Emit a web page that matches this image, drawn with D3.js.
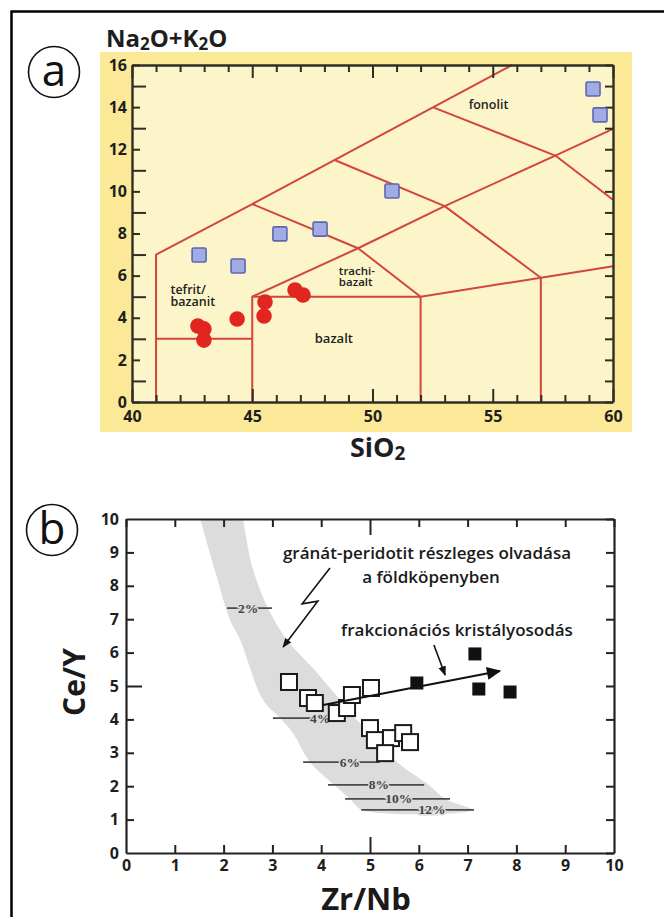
<!DOCTYPE html>
<html>
<head>
<meta charset="utf-8">
<script src="https://cdn.jsdelivr.net/npm/d3@7"></script>
<style>
  body { margin: 0; background: #fff; }
  svg { display: block; font-family: "Open Sans", "DejaVu Sans", sans-serif; }
</style>
</head>
<body>
<svg id="fig" width="664" height="917"></svg>
<script>
// ---------- panel a: TAS diagram ----------
const tasBoundaries = [
  [[41, 0], [41, 7], [45, 9.4], [55.8, 16]],
  [[41, 3], [45, 3]],
  [[45, 0], [45, 5], [52, 5], [57, 5.9], [60, 6.45]],
  [[45, 5], [49.4, 7.3], [53, 9.3], [57.6, 11.7], [60, 12.97]],
  [[45, 9.4], [49.4, 7.3], [52, 5]],
  [[48.4, 11.5], [53, 9.3], [57, 5.9]],
  [[52.5, 14], [57.6, 11.7], [60, 9.6]],
  [[52, 0], [52, 5]],
  [[57, 0], [57, 5.9]]
];
const tasFieldNames = [
  {lines: ["fonolit"], x: 54.0, y: 13.9, size: 12.5},
  {lines: ["trachi-", "bazalt"], x: 48.6, y: 6.05, size: 11.5},
  {lines: ["tefrit/", "bazanit"], x: 41.6, y: 5.15, size: 12.5},
  {lines: ["bazalt"], x: 47.6, y: 2.8, size: 13}
];
const blueSiO2 = [42.79, 44.41, 46.15, 47.82, 50.81, 59.17, 59.46];
const blueAlk  = [6.98, 6.46, 7.98, 8.21, 10.02, 14.86, 13.63];
const redSiO2 = [42.74, 42.99, 42.99, 44.37, 45.53, 45.49, 46.78, 47.11];
const redAlk  = [3.61, 3.47, 2.94, 3.94, 4.75, 4.08, 5.32, 5.08];
const aTicksX = d3.range(40, 61, 1);
const aTicksY = d3.range(0, 17, 1);

// ---------- panel b: Ce/Y vs Zr/Nb ----------
const bandLeft = [[1.52, 10], [1.82, 8.47], [2.13, 6.98], [2.34, 6.38], [2.81, 4.58], [3.16, 4.04],
  [3.42, 3.59], [3.77, 2.72], [4.3, 2.0], [4.59, 1.62], [4.84, 1.29]];
const bandRight = [[2.40, 10], [2.60, 8.5], [2.91, 7.33], [3.3, 6.38], [3.85, 5.5], [4.39, 4.58],
  [4.73, 3.98], [5.04, 3.59], [5.51, 2.78], [6.2, 2.04], [6.54, 1.62], [7.1, 1.29]];
const meltLabels = ["2%", "4%", "6%", "8%", "10%", "12%"];
const meltY      = [7.33, 4.04, 2.72, 2.04, 1.62, 1.29];
const meltX0     = [2.07, 3.01, 3.63, 4.14, 4.49, 4.82];
const meltX1     = [2.99, 4.32, 5.20, 6.11, 6.64, 7.13];
const meltLabelX = [2.5, 3.98, 4.59, 5.18, 5.59, 6.27];
const openZrNb = [3.34, 3.73, 3.87, 4.32, 4.53, 4.63, 5.02, 5.00, 5.10, 5.43, 5.68, 5.82, 5.31];
const openCeY  = [5.12, 4.64, 4.49, 4.19, 4.34, 4.73, 4.94, 3.74, 3.38, 3.44, 3.59, 3.32, 2.99];
const filledZrNb = [5.96, 7.15, 7.23, 7.87];
const filledCeY  = [5.09, 5.96, 4.91, 4.82];
const trendArrow = [[4.04, 4.43], [7.66, 5.45]];
const fracPointer = [[6.31, 6.23], [6.54, 5.33]];
const meltPointer = [[4.18, 8.53], [3.61, 7.46], [3.93, 7.54], [3.22, 6.17]];
const bTicks = d3.range(0, 11, 1);

const svg = d3.select("#fig");
const FONT = "'Open Sans', 'DejaVu Sans', sans-serif";

// defs for arrowheads
const defs = svg.append("defs");
defs.append("marker")
  .attr("id", "head").attr("viewBox", "0 0 10 10")
  .attr("refX", 9).attr("refY", 5)
  .attr("markerWidth", 6).attr("markerHeight", 6)
  .attr("markerUnits", "strokeWidth")
  .attr("orient", "auto")
  .append("path").attr("d", "M0,1 L10,5 L0,9 z").attr("fill", "#111");
defs.append("marker")
  .attr("id", "headBig").attr("viewBox", "0 0 10 10")
  .attr("refX", 9).attr("refY", 5)
  .attr("markerWidth", 7.5).attr("markerHeight", 6.5)
  .attr("markerUnits", "strokeWidth")
  .attr("orient", "auto")
  .append("path").attr("d", "M0,0.5 L10,5 L0,9.5 z").attr("fill", "#111");

// outer frame (right and bottom edges are off the page)
svg.append("path")
  .attr("d", "M11.5,917 V11.5 H664")
  .attr("fill", "none").attr("stroke", "#000").attr("stroke-width", 2.5);

function circleLabel(cx, cy, letter) {
  svg.append("circle").attr("cx", cx).attr("cy", cy).attr("r", 25.5)
    .attr("fill", "none").attr("stroke", "#111").attr("stroke-width", 1.6);
  svg.append("text").attr("x", cx).attr("y", cy + 14)
    .attr("text-anchor", "middle").attr("font-size", 44).attr("fill", "#111")
    .text(letter);
}

// ================= panel a =================
const ax = d3.scaleLinear().domain([40, 60]).range([132, 613]);
const ay = d3.scaleLinear().domain([0, 16]).range([402, 65]);
const axisCol = "#2e2e26";

svg.append("rect").attr("x", 100).attr("y", 52).attr("width", 532).attr("height", 380)
  .attr("fill", "#fbe997");
svg.append("rect").attr("x", ax(40)).attr("y", ay(16))
  .attr("width", ax(60) - ax(40)).attr("height", ay(0) - ay(16))
  .attr("fill", "#fdf5ca");

circleLabel(54, 72, "a");

const gA = svg.append("g");

// boundaries
const tasLine = d3.line().x(d => ax(d[0])).y(d => ay(d[1]));
gA.append("g").selectAll("path").data(tasBoundaries).join("path")
  .attr("d", tasLine)
  .attr("fill", "none").attr("stroke", "#d2463c").attr("stroke-width", 2)
  .attr("stroke-linejoin", "round");

// axes
function styleAxis(g, hideLabels) {
  g.attr("font-family", FONT).attr("font-size", 16);
  g.select(".domain").attr("stroke", axisCol).attr("stroke-width", 2.4);
  g.selectAll(".tick line").attr("stroke", axisCol).attr("stroke-width", 2);
  g.selectAll(".tick text").attr("fill", "#1e1e1e").attr("font-weight", "bold");
  if (hideLabels) g.selectAll(".tick text").remove();
}
const aBottom = gA.append("g").attr("transform", `translate(0,${ay(0)})`)
  .call(d3.axisBottom(ax).tickValues(aTicksX).tickSize(-7).tickSizeOuter(0).tickPadding(9)
    .tickFormat(d => d % 5 === 0 ? d : ""));
styleAxis(aBottom);
aBottom.selectAll(".tick line").filter(d => d % 5 === 0).attr("y2", -13);
const aTop = gA.append("g").attr("transform", `translate(0,${ay(16)})`)
  .call(d3.axisTop(ax).tickValues(aTicksX).tickSize(-7).tickSizeOuter(0));
styleAxis(aTop, true);
aTop.selectAll(".tick line").filter(d => d % 5 === 0).attr("y2", 13);
const aLeft = gA.append("g").attr("transform", `translate(${ax(40)},0)`)
  .call(d3.axisLeft(ay).tickValues(aTicksY).tickSize(-8).tickSizeOuter(0).tickPadding(5)
    .tickFormat(d => d % 2 === 0 ? d : ""));
styleAxis(aLeft);
aLeft.selectAll(".tick line").filter(d => d % 2 === 1).attr("x2", 14);
const aRight = gA.append("g").attr("transform", `translate(${ax(60)},0)`)
  .call(d3.axisRight(ay).tickValues(aTicksY).tickSize(-8).tickSizeOuter(0));
styleAxis(aRight, true);

// field names
tasFieldNames.forEach(f => {
  const t = gA.append("text").attr("x", ax(f.x)).attr("y", ay(f.y))
    .attr("font-size", f.size).attr("font-weight", 600).attr("fill", "#222");
  f.lines.forEach((s, i) => {
    t.append("tspan").attr("x", ax(f.x)).attr("dy", i === 0 ? 0 : f.size * 0.98).text(s);
  });
});

// samples
const sq = 14;
gA.append("g").selectAll("rect").data(blueSiO2).join("rect")
  .attr("x", (d, i) => ax(d) - sq / 2).attr("y", (d, i) => ay(blueAlk[i]) - sq / 2)
  .attr("width", sq).attr("height", sq).attr("rx", 1.5)
  .attr("fill", "#a2ace4").attr("stroke", "#5d66ad").attr("stroke-width", 1.6);
gA.append("g").selectAll("circle").data(redSiO2).join("circle")
  .attr("cx", d => ax(d)).attr("cy", (d, i) => ay(redAlk[i])).attr("r", 7.8)
  .attr("fill", "#e0261f");

// axis titles
const tA = svg.append("text").attr("x", 106).attr("y", 47)
  .attr("font-size", 24).attr("font-weight", "bold").attr("fill", "#1e1e1e");
tA.append("tspan").text("Na");
tA.append("tspan").attr("font-size", 17).attr("dy", 3).text("2");
tA.append("tspan").attr("dy", -3).text("O+K");
tA.append("tspan").attr("font-size", 17).attr("dy", 3).text("2");
tA.append("tspan").attr("dy", -3).text("O");

const tS = svg.append("text").attr("x", 350).attr("y", 457)
  .attr("font-size", 27).attr("font-weight", "bold").attr("fill", "#1e1e1e");
tS.append("tspan").text("SiO");
tS.append("tspan").attr("font-size", 19).attr("dy", 3).text("2");

// ================= panel b =================
const bx = d3.scaleLinear().domain([0, 10]).range([126, 614]);
const by = d3.scaleLinear().domain([0, 10]).range([853, 519]);

circleLabel(52, 530, "b");

const gB = svg.append("g");

// melting band
const bandPts = bandLeft.concat(bandRight.slice().reverse());
gB.append("path")
  .attr("d", d3.line().x(d => bx(d[0])).y(d => by(d[1])).curve(d3.curveCatmullRom)(bandPts) + "Z")
  .attr("fill", "#dcdcdc");

// melt-degree lines
const melt = gB.append("g");
meltLabels.forEach((lab, i) => {
  melt.append("line")
    .attr("x1", bx(meltX0[i])).attr("x2", bx(meltX1[i]))
    .attr("y1", by(meltY[i])).attr("y2", by(meltY[i]))
    .attr("stroke", "#4a4a4a").attr("stroke-width", 1.8);
  melt.append("text")
    .attr("x", bx(meltLabelX[i])).attr("y", by(meltY[i]) + 4.5)
    .attr("text-anchor", "middle")
    .attr("font-family", "'Liberation Serif', 'DejaVu Serif', serif")
    .attr("font-weight", "bold").attr("font-size", 13.5).attr("fill", "#444")
    .attr("stroke", "#dcdcdc").attr("stroke-width", 3).attr("paint-order", "stroke")
    .text(lab);
});

// axes
const bAxisCol = "#222";
function styleB(g, hideLabels) {
  g.attr("font-family", FONT).attr("font-size", 16);
  g.select(".domain").attr("stroke", bAxisCol).attr("stroke-width", 2.2);
  g.selectAll(".tick line").attr("stroke", bAxisCol).attr("stroke-width", 2);
  g.selectAll(".tick text").attr("fill", "#1e1e1e").attr("font-weight", "bold");
  if (hideLabels) g.selectAll(".tick text").remove();
}
const bBottom = gB.append("g").attr("transform", `translate(0,${by(0)})`)
  .call(d3.axisBottom(bx).tickValues(bTicks).tickSize(-8).tickSizeOuter(0).tickPadding(7));
styleB(bBottom);
bBottom.selectAll(".tick line").filter(d => d === 5).attr("y2", -16);
bBottom.selectAll(".tick line").filter(d => d === 0 || d === 10).remove();
const bTop = gB.append("g").attr("transform", `translate(0,${by(10)})`)
  .call(d3.axisTop(bx).tickValues(bTicks).tickSize(-8).tickSizeOuter(0));
styleB(bTop, true);
bTop.selectAll(".tick line").filter(d => d === 5).attr("y2", 16);
const bLeft = gB.append("g").attr("transform", `translate(${bx(0)},0)`)
  .call(d3.axisLeft(by).tickValues(bTicks).tickSize(-8).tickSizeOuter(0).tickPadding(7));
styleB(bLeft);
bLeft.selectAll(".tick line").filter(d => d === 5).attr("x2", 16);
bLeft.selectAll(".tick line").filter(d => d === 0 || d === 10).remove();
const bRight = gB.append("g").attr("transform", `translate(${bx(10)},0)`)
  .call(d3.axisRight(by).tickValues(bTicks).tickSize(-8).tickSizeOuter(0));
styleB(bRight, true);

// open squares (partial melting samples)
const osq = 16;
gB.append("g").selectAll("rect").data(openZrNb).join("rect")
  .attr("x", d => bx(d) - osq / 2).attr("y", (d, i) => by(openCeY[i]) - osq / 2)
  .attr("width", osq).attr("height", osq)
  .attr("fill", "#fff").attr("stroke", "#1a1a1a").attr("stroke-width", 2);

// fractional crystallisation trend
gB.append("line")
  .attr("x1", bx(trendArrow[0][0])).attr("y1", by(trendArrow[0][1]))
  .attr("x2", bx(trendArrow[1][0])).attr("y2", by(trendArrow[1][1]))
  .attr("stroke", "#111").attr("stroke-width", 2.2).attr("marker-end", "url(#headBig)");

// filled squares
const fsq = 13;
gB.append("g").selectAll("rect").data(filledZrNb).join("rect")
  .attr("x", d => bx(d) - fsq / 2).attr("y", (d, i) => by(filledCeY[i]) - fsq / 2)
  .attr("width", fsq).attr("height", fsq).attr("fill", "#111");

// pointers
gB.append("path")
  .attr("d", d3.line().x(d => bx(d[0])).y(d => by(d[1]))(fracPointer))
  .attr("fill", "none").attr("stroke", "#111").attr("stroke-width", 1.6)
  .attr("marker-end", "url(#head)");
gB.append("path")
  .attr("d", d3.line().x(d => bx(d[0])).y(d => by(d[1]))(meltPointer))
  .attr("fill", "none").attr("stroke", "#111").attr("stroke-width", 1.6)
  .attr("stroke-linejoin", "miter").attr("marker-end", "url(#head)");

// annotations
const annot = gB.append("text").attr("text-anchor", "middle")
  .attr("font-size", 17).attr("font-weight", 600).attr("fill", "#1a1a1a");
annot.append("tspan").attr("x", 427).attr("y", 559).text("gránát-peridotit részleges olvadása");
annot.append("tspan").attr("x", 431).attr("y", 583).text("a földköpenyben");
gB.append("text").attr("x", 457).attr("y", 636).attr("text-anchor", "middle")
  .attr("font-size", 17).attr("font-weight", 600).attr("fill", "#1a1a1a")
  .text("frakcionációs kristályosodás");

// axis titles
svg.append("text")
  .attr("transform", `translate(85,682) rotate(-90)`)
  .attr("text-anchor", "middle")
  .attr("font-size", 30).attr("font-weight", "bold").attr("fill", "#1a1a1a")
  .text("Ce/Y");
svg.append("text").attr("x", 366).attr("y", 910).attr("text-anchor", "middle")
  .attr("font-size", 31).attr("font-weight", "bold").attr("fill", "#1a1a1a")
  .text("Zr/Nb");
</script>
</body>
</html>
